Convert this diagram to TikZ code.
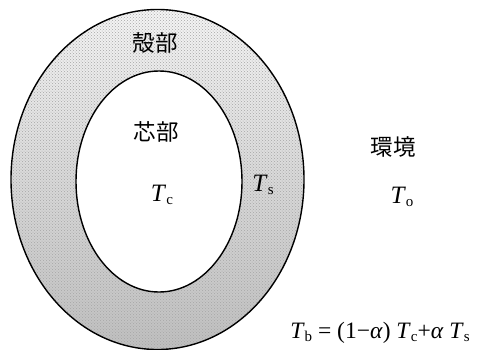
\documentclass[tikz,border=0pt]{standalone}
\usepackage{fontspec}
\setmainfont{Liberation Serif}
\newfontfamily\cjk{Noto Sans CJK JP}
\usetikzlibrary{patterns}
\tikzset{
  outline/.style={line width=1.4pt, draw=black},
  cjklabel/.style={font=\cjk\fontsize{22.5}{22.5}\selectfont, inner sep=0pt},
  mathlabel/.style={font=\fontsize{25}{25}\selectfont, inner sep=0pt},
}
\newcommand{\Tv}[1]{\textit{T}\kern0pt\raisebox{-0.3ex}{\fontsize{15}{15}\selectfont #1}}
\begin{document}
\begin{tikzpicture}[x=1pt,y=1pt]
\useasboundingbox (0,0) rectangle (478,349);
% shell
\shade[even odd rule, top color=gray!8, bottom color=gray!50, middle color=gray!30]
  (157.5,169.5) ellipse [x radius=146.5, y radius=170]
  (159,167.5) ellipse [x radius=83, y radius=110.5];
\fill[even odd rule, pattern=crosshatch dots, pattern color=gray!70]
  (157.5,169.5) ellipse [x radius=146.5, y radius=170]
  (159,167.5) ellipse [x radius=83, y radius=110.5];
\draw[outline] (157.5,169.5) ellipse [x radius=146.5, y radius=170];
\draw[outline, fill=white] (159,167.5) ellipse [x radius=83, y radius=110.5];
% labels
\node[cjklabel] (shell) at (155,306) {殻部};
\node[cjklabel] (core) at (156,217) {芯部};
\node[cjklabel] (env) at (393,202) {環境};
\node[mathlabel] (tc) at (162,154) {\Tv{c}};
\node[mathlabel] (ts) at (263,164) {\Tv{s}};
\node[mathlabel] (to) at (402,152) {\Tv{o}};
\node[mathlabel, font=\fontsize{23.5}{23.5}\selectfont] (formula) at (380,16)
  {\Tv{b} = (1−\textit{α}) \Tv{c}+\textit{α} \Tv{s}};
\end{tikzpicture}
\end{document}
